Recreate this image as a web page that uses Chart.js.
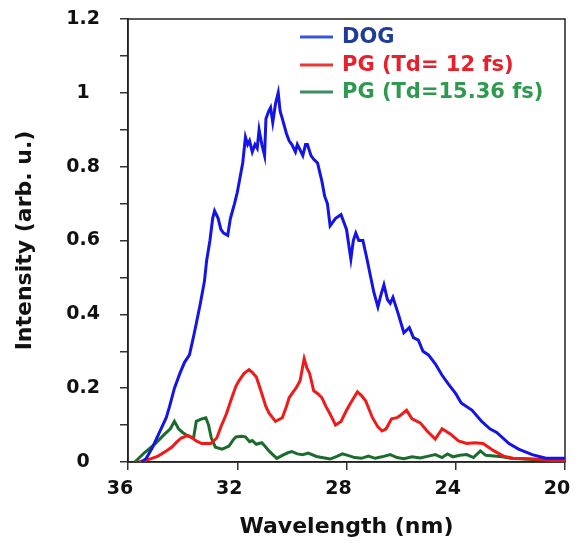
<!DOCTYPE html>
<html>
<head>
<meta charset="utf-8">
<script src="https://cdn.jsdelivr.net/npm/chart.js@4.4.1/dist/chart.umd.min.js"></script>
<style>
  body { margin: 0; background: #fff; }
  #wrap { width: 578px; height: 547px; }
</style>
</head>
<body>
<div id="wrap"><canvas id="spectrumChart" width="578" height="547"></canvas></div>
<script>
// spectra: wavelength (nm) and intensity (arb. u.)
const dogWl = [35.5, 35.33, 35.1, 34.85, 34.6, 34.48, 34.3, 34.1, 33.93, 33.75, 33.6, 33.5, 33.35, 33.2, 33.12, 33.0, 32.9, 32.83, 32.7, 32.6, 32.5, 32.35, 32.25, 32.1, 32.0, 31.9, 31.8, 31.7, 31.62, 31.55, 31.45, 31.35, 31.27, 31.2, 31.1, 31.0, 30.95, 30.85, 30.78, 30.7, 30.6, 30.5, 30.43, 30.35, 30.2, 30.1, 30.0, 29.87, 29.8, 29.73, 29.6, 29.5, 29.43, 29.3, 29.2, 29.06, 28.9, 28.8, 28.7, 28.6, 28.5, 28.4, 28.2, 28.1, 28.0, 27.84, 27.75, 27.66, 27.55, 27.4, 27.25, 27.14, 27.0, 26.85, 26.75, 26.63, 26.5, 26.4, 26.3, 26.1, 25.9, 25.7, 25.55, 25.37, 25.2, 25.0, 24.75, 24.5, 24.26, 24.0, 23.8, 23.4, 23.05, 22.75, 22.5, 22.05, 21.7, 21.2, 20.7, 20.2, 20.0];
const dogInt = [0, 0.01, 0.04, 0.08, 0.12, 0.15, 0.2, 0.24, 0.27, 0.29, 0.34, 0.375, 0.43, 0.49, 0.546, 0.6, 0.66, 0.68, 0.66, 0.63, 0.62, 0.614, 0.66, 0.7, 0.73, 0.77, 0.81, 0.88, 0.86, 0.87, 0.84, 0.86, 0.85, 0.9, 0.86, 0.83, 0.93, 0.95, 0.96, 0.92, 0.97, 1.0, 0.95, 0.93, 0.89, 0.87, 0.86, 0.84, 0.86, 0.85, 0.83, 0.86, 0.86, 0.83, 0.82, 0.81, 0.76, 0.72, 0.7, 0.64, 0.65, 0.66, 0.67, 0.65, 0.63, 0.55, 0.6, 0.62, 0.6, 0.6, 0.55, 0.51, 0.46, 0.42, 0.45, 0.48, 0.44, 0.43, 0.446, 0.4, 0.35, 0.364, 0.337, 0.33, 0.3, 0.29, 0.266, 0.235, 0.21, 0.185, 0.16, 0.14, 0.11, 0.09, 0.08, 0.05, 0.035, 0.02, 0.01, 0.01, 0.01];

const pg12Wl = [35.6, 35.2, 34.9, 34.6, 34.4, 34.2, 34.05, 33.8, 33.65, 33.5, 33.3, 32.97, 32.75, 32.6, 32.4, 32.2, 32.05, 31.94, 31.75, 31.57, 31.45, 31.3, 31.1, 30.95, 30.84, 30.6, 30.35, 30.2, 30.1, 29.95, 29.85, 29.7, 29.6, 29.55, 29.45, 29.35, 29.2, 29.05, 28.9, 28.75, 28.6, 28.4, 28.2, 28.0, 27.8, 27.6, 27.45, 27.3, 27.05, 26.85, 26.7, 26.55, 26.35, 26.15, 26.05, 25.8, 25.6, 25.3, 25.05, 24.75, 24.5, 24.2, 23.9, 23.6, 23.3, 23.0, 22.6, 22.25, 21.9, 21.1, 20.4, 20.0];
const pg12Int = [0, 0.008, 0.016, 0.03, 0.04, 0.055, 0.065, 0.072, 0.065, 0.057, 0.05, 0.05, 0.065, 0.095, 0.13, 0.174, 0.205, 0.22, 0.24, 0.25, 0.243, 0.23, 0.185, 0.15, 0.133, 0.11, 0.12, 0.15, 0.174, 0.19, 0.2, 0.22, 0.26, 0.28, 0.255, 0.24, 0.193, 0.185, 0.174, 0.15, 0.13, 0.1, 0.11, 0.14, 0.166, 0.19, 0.18, 0.166, 0.12, 0.095, 0.084, 0.09, 0.117, 0.12, 0.125, 0.14, 0.117, 0.106, 0.084, 0.062, 0.09, 0.076, 0.057, 0.05, 0.052, 0.05, 0.03, 0.016, 0.01, 0.008, 0.005, 0.005];

const pg1536Wl = [35.75, 35.4, 35.0, 34.65, 34.45, 34.3, 34.15, 34.0, 33.8, 33.6, 33.5, 33.3, 33.15, 33.05, 32.95, 32.8, 32.55, 32.3, 32.15, 32.05, 31.85, 31.7, 31.55, 31.45, 31.3, 31.1, 30.95, 30.84, 30.7, 30.55, 30.35, 30.15, 30.0, 29.8, 29.6, 29.4, 29.1, 28.9, 28.6, 28.35, 28.15, 27.95, 27.7, 27.45, 27.2, 26.95, 26.7, 26.4, 26.15, 25.9, 25.6, 25.3, 25.0, 24.75, 24.5, 24.3, 24.1, 23.85, 23.6, 23.35, 23.1, 22.9, 22.6, 22.3, 22.0, 21.5, 21.0, 20.5, 20.0];
const pg1536Int = [0, 0.025, 0.05, 0.076, 0.09, 0.11, 0.09, 0.08, 0.07, 0.065, 0.11, 0.117, 0.12, 0.1, 0.065, 0.04, 0.035, 0.043, 0.06, 0.068, 0.07, 0.068, 0.055, 0.058, 0.048, 0.052, 0.04, 0.03, 0.02, 0.01, 0.018, 0.025, 0.028, 0.022, 0.02, 0.024, 0.015, 0.012, 0.008, 0.015, 0.022, 0.018, 0.012, 0.01, 0.016, 0.01, 0.014, 0.02, 0.012, 0.009, 0.014, 0.011, 0.016, 0.02, 0.012, 0.022, 0.014, 0.018, 0.02, 0.012, 0.03, 0.018, 0.016, 0.014, 0.01, 0.008, 0.006, 0.005, 0.004];

const seriesLabels = ["DOG", "PG (Td= 12 fs)", "PG (Td=15.36 fs)"];
const xTicks = [36, 32, 28, 24, 20];

const lineColors = ["#1414e6", "#f01a1a", "#1b6b2c"];
const legendLineColors = ["#3a55d8", "#e53a3a", "#3f8c60"];
const legendTextColors = ["#1f3c99", "#e8202a", "#2f9a4f"];
const FONT = "'DejaVu Sans', sans-serif";

const toPoints = (xs, ys) => xs.map((x, i) => ({ x: x, y: ys[i] }));

// box around the plot area (Chart.js only draws left/bottom borders)
const frame = {
    id: "frame",
    beforeDatasetsDraw(chart) {
        const { ctx, chartArea: a } = chart;
        ctx.save();
        ctx.strokeStyle = "#222";
        ctx.lineWidth = 1.5;
        ctx.strokeRect(a.left, a.top, a.right - a.left, a.bottom - a.top);
        ctx.restore();
    },
};

// legend sits inside the plot, top right, with coloured text
const insideLegend = {
    id: "insideLegend",
    afterDraw(chart) {
        const { ctx } = chart;
        const rows = [38, 66, 93];
        ctx.save();
        ctx.font = "bold 21px " + FONT;
        ctx.textAlign = "left";
        ctx.textBaseline = "middle";
        chart.data.datasets.forEach((ds, i) => {
            ctx.strokeStyle = legendLineColors[i];
            ctx.lineWidth = 3;
            ctx.beginPath();
            ctx.moveTo(300, rows[i] - 1);
            ctx.lineTo(333, rows[i] - 1);
            ctx.stroke();
            ctx.fillStyle = legendTextColors[i];
            ctx.fillText(ds.label, 342, rows[i]);
        });
        ctx.restore();
    },
};

new Chart(document.getElementById("spectrumChart"), {
    type: "line",
    data: {
        datasets: [
            { label: seriesLabels[0], data: toPoints(dogWl, dogInt), borderColor: lineColors[0] },
            { label: seriesLabels[1], data: toPoints(pg12Wl, pg12Int), borderColor: lineColors[1] },
            { label: seriesLabels[2], data: toPoints(pg1536Wl, pg1536Int), borderColor: lineColors[2] },
        ],
    },
    options: {
        responsive: false,
        animation: false,
        layout: { padding: { left: 12, right: 13, top: 19, bottom: 0 } },
        elements: {
            line: { borderWidth: 3, tension: 0 },
            point: { radius: 0 },
        },
        scales: {
            x: {
                type: "linear",
                min: 20,
                max: 36,
                reverse: true,
                afterBuildTicks: (scale) => {
                    scale.ticks = xTicks.map((v) => ({ value: v }));
                },
                afterFit: (scale) => {
                    scale.height = 85;
                    scale.paddingLeft = 0;
                    scale.paddingRight = 0;
                },
                ticks: {
                    color: "#111",
                    font: { family: FONT, size: 19, weight: "bold" },
                    padding: 8,
                    labelOffset: -8,
                    maxRotation: 0,
                },
                grid: { drawOnChartArea: false, tickLength: 8, color: "#333", lineWidth: 1.5 },
                border: { color: "#222", width: 1.5 },
                title: {
                    display: true,
                    text: "Wavelength (nm)",
                    color: "#111",
                    font: { family: FONT, size: 22, weight: "bold" },
                    padding: { top: 0, bottom: 7 },
                },
            },
            y: {
                min: 0,
                max: 1.2,
                afterFit: (scale) => {
                    scale.width = 116;
                    scale.paddingTop = 0;
                    scale.paddingBottom = 0;
                },
                ticks: {
                    stepSize: 0.1,
                    autoSkip: false,
                    crossAlign: "center",
                    padding: 20,
                    color: "#111",
                    font: { family: FONT, size: 19, weight: "bold" },
                    callback: (v, i) => (i % 2 === 0 ? String(+v.toFixed(1)) : ""),
                },
                grid: { drawOnChartArea: false, tickLength: 8, color: "#333", lineWidth: 1.5 },
                border: { color: "#222", width: 1.5 },
                title: {
                    display: true,
                    text: "Intensity (arb. u.)",
                    color: "#111",
                    font: { family: FONT, size: 22, weight: "bold" },
                    padding: { top: 0, bottom: 0 },
                },
            },
        },
        plugins: {
            legend: { display: false },
            tooltip: { enabled: false },
        },
    },
    plugins: [frame, insideLegend],
});
</script>
</body>
</html>
